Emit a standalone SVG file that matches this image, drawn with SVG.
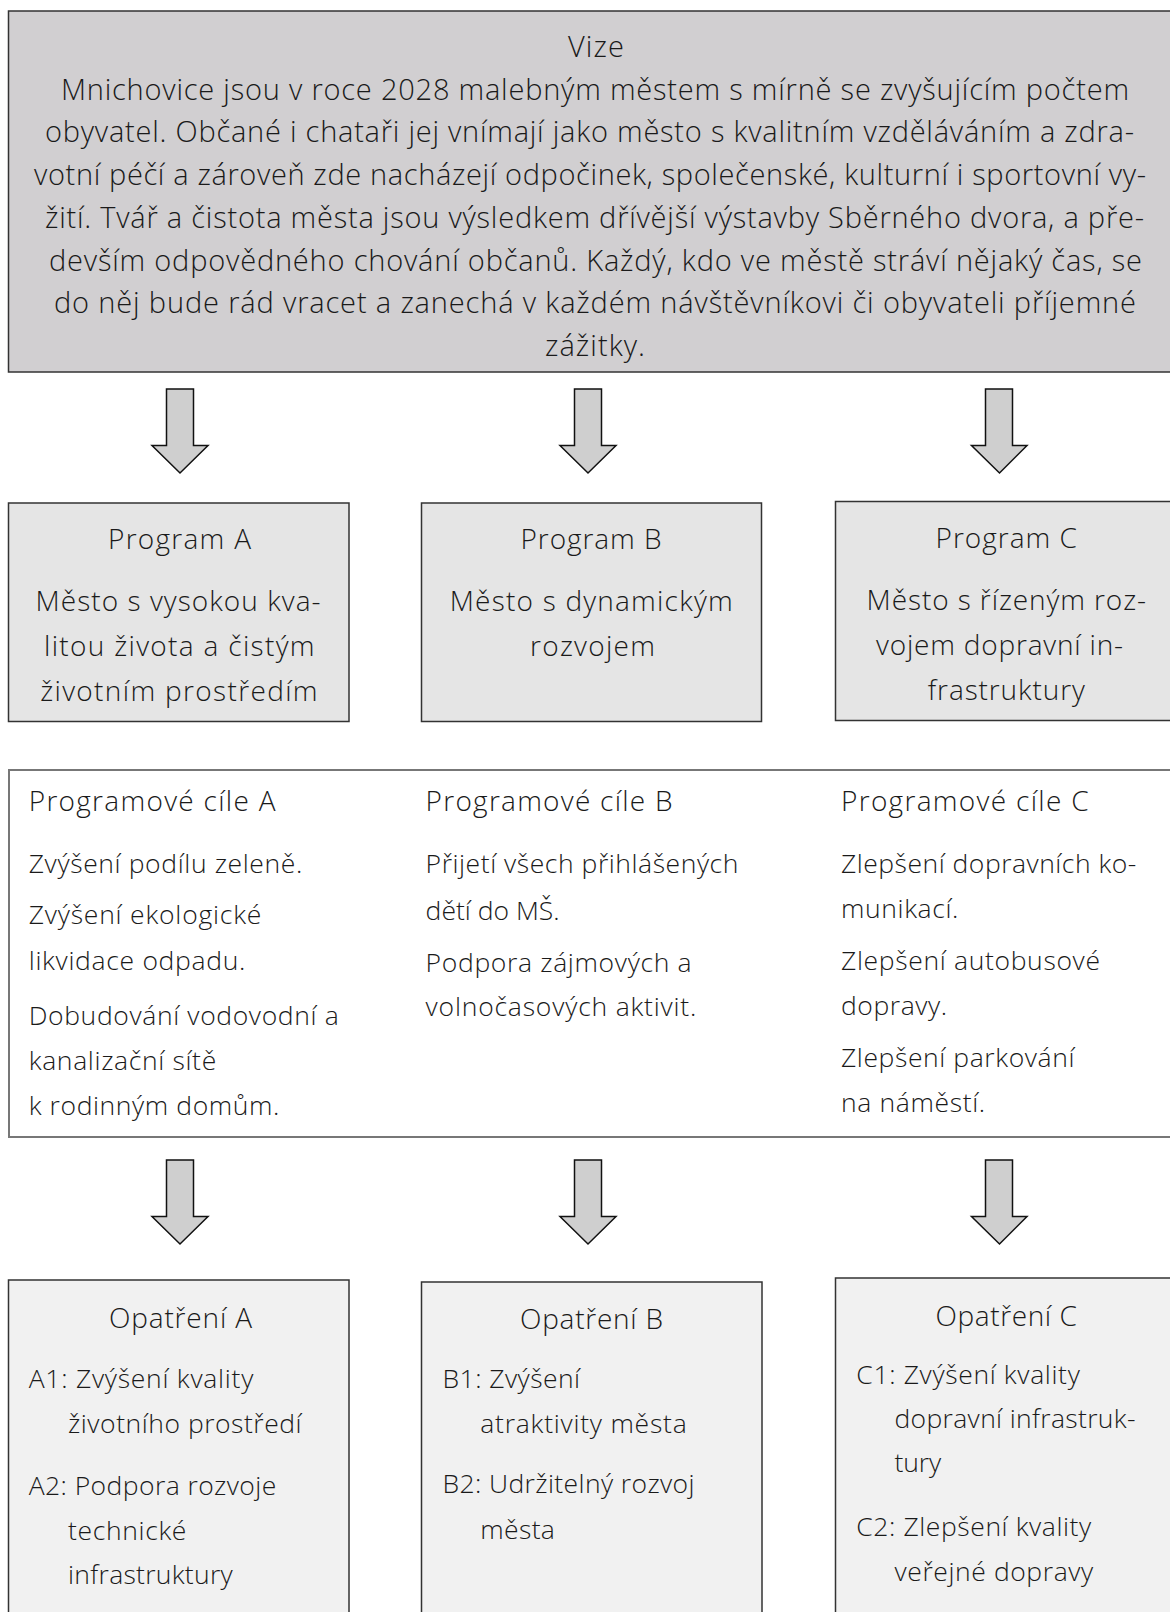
<svg xmlns="http://www.w3.org/2000/svg" width="1170" height="1612" viewBox="0 0 1170 1612">
<style>
text{font-family:"Open Sans","Noto Sans","Liberation Sans",sans-serif;font-weight:300;font-size:26.5px;fill:#1a1a1a}
.v{font-size:29px}
.t{font-size:28px}
.vize{fill:#d1cfd1;stroke:#333;stroke-width:1.5}
.prog{fill:#e5e5e5;stroke:#333;stroke-width:1.5}
.goals{fill:#fff;stroke:#777;stroke-width:2}
.opat{fill:#f1f1f1;stroke:#333;stroke-width:1.5}
.arrow{fill:#cfcfcf;stroke:#111;stroke-width:1.5;stroke-linejoin:miter}
</style>
<rect width="1170" height="1612" fill="#fff"/>

<g id="vize">
<rect class="vize" x="8.5" y="11" width="1180" height="361"/>
<text class="v" x="568" y="57" textLength="56" lengthAdjust="spacing">Vize</text>
<text class="v" x="61" y="99.7" textLength="1068" lengthAdjust="spacing">Mnichovice jsou v roce 2028 malebným městem s mírně se zvyšujícím počtem</text>
<text class="v" x="45" y="142.4" textLength="1089" lengthAdjust="spacing">obyvatel. Občané i chataři jej vnímají jako město s kvalitním vzděláváním a zdra-</text>
<text class="v" x="34" y="185.1" textLength="1112" lengthAdjust="spacing">votní péčí a zároveň zde nacházejí odpočinek, společenské, kulturní i sportovní vy-</text>
<text class="v" x="45" y="227.8" textLength="1099" lengthAdjust="spacing">žití. Tvář a čistota města jsou výsledkem dřívější výstavby Sběrného dvora, a pře-</text>
<text class="v" x="49" y="270.5" textLength="1093" lengthAdjust="spacing">devším odpovědného chování občanů. Každý, kdo ve městě stráví nějaký čas, se</text>
<text class="v" x="54" y="313.2" textLength="1082" lengthAdjust="spacing">do něj bude rád vracet a zanechá v každém návštěvníkovi či obyvateli příjemné</text>
<text class="v" x="545" y="355.9" textLength="100" lengthAdjust="spacing">zážitky.</text>
</g>

<g id="connectors">
<path class="arrow" d="M166.5,389 H193.5 V445.5 H208 L180,473 L152,445.5 H166.5 Z"/>
<path class="arrow" d="M574.5,389 H601.5 V445.5 H616 L588,473 L560,445.5 H574.5 Z"/>
<path class="arrow" d="M985.5,389 H1012.5 V445.5 H1027 L999.5,473 L971.5,445.5 H985.5 Z"/>
<path class="arrow" d="M166.5,1160 H193.5 V1216.5 H208 L180,1244 L152,1216.5 H166.5 Z"/>
<path class="arrow" d="M574.5,1160 H601.5 V1216.5 H616 L588,1244 L560,1216.5 H574.5 Z"/>
<path class="arrow" d="M985.5,1160 H1012.5 V1216.5 H1027 L999.5,1244 L971.5,1216.5 H985.5 Z"/>
</g>

<g id="program-a">
<rect class="prog" x="8.5" y="503" width="340.5" height="218.5"/>
<text class="t" x="108" y="549" textLength="143" lengthAdjust="spacing">Program A</text>
<text class="t" x="35.6" y="610.5" textLength="285" lengthAdjust="spacing">Město s vysokou kva-</text>
<text class="t" x="44" y="655.5" textLength="270.6" lengthAdjust="spacing">litou života a čistým</text>
<text class="t" x="40.2" y="700.5" textLength="277.4" lengthAdjust="spacing">životním prostředím</text>
</g>

<g id="program-b">
<rect class="prog" x="421.5" y="503" width="340" height="218.5"/>
<text class="t" x="520.5" y="549" textLength="141" lengthAdjust="spacing">Program B</text>
<text class="t" x="449.7" y="610.5" textLength="283" lengthAdjust="spacing">Město s dynamickým</text>
<text class="t" x="530" y="655.5" textLength="125" lengthAdjust="spacing">rozvojem</text>
</g>

<g id="program-c">
<rect class="prog" x="835.5" y="501.5" width="345" height="219"/>
<text class="t" x="935.5" y="548" textLength="141.5" lengthAdjust="spacing">Program C</text>
<text class="t" x="866.6" y="610" textLength="279.4" lengthAdjust="spacing">Město s řízeným roz-</text>
<text class="t" x="876" y="655" textLength="247" lengthAdjust="spacing">vojem dopravní in-</text>
<text class="t" x="927.8" y="700" textLength="157" lengthAdjust="spacing">frastruktury</text>
</g>

<g id="programove-cile">
<rect class="goals" x="9" y="770" width="1180" height="367"/>
<text class="t" x="28.7" y="811" textLength="246.8" lengthAdjust="spacing">Programové cíle A</text>
<text x="28.7" y="872.5" textLength="273.6" lengthAdjust="spacing">Zvýšení podílu zeleně.</text>
<text x="28.7" y="924" textLength="232.7" lengthAdjust="spacing">Zvýšení ekologické</text>
<text x="28.7" y="970" textLength="216.7" lengthAdjust="spacing">likvidace odpadu.</text>
<text x="28.7" y="1024.5" textLength="310" lengthAdjust="spacing">Dobudování vodovodní a</text>
<text x="28.7" y="1070" textLength="187.5" lengthAdjust="spacing">kanalizační sítě</text>
<text x="28.7" y="1114.5" textLength="250.7" lengthAdjust="spacing">k rodinným domům.</text>

<text class="t" x="425.6" y="811" textLength="247" lengthAdjust="spacing">Programové cíle B</text>
<text x="425.6" y="872.5" textLength="312.8" lengthAdjust="spacing">Přijetí všech přihlášených</text>
<text x="425.6" y="919.5" textLength="134" lengthAdjust="spacing">dětí do MŠ.</text>
<text x="425.6" y="971.5" textLength="266" lengthAdjust="spacing">Podpora zájmových a</text>
<text x="425.6" y="1016" textLength="270.7" lengthAdjust="spacing">volnočasových aktivit.</text>

<text class="t" x="841" y="811" textLength="247.6" lengthAdjust="spacing">Programové cíle C</text>
<text x="841" y="872.5" textLength="295.4" lengthAdjust="spacing">Zlepšení dopravních ko-</text>
<text x="841" y="918" textLength="117.4" lengthAdjust="spacing">munikací.</text>
<text x="841" y="970" textLength="259" lengthAdjust="spacing">Zlepšení autobusové</text>
<text x="841" y="1015" textLength="106" lengthAdjust="spacing">dopravy.</text>
<text x="841" y="1066.5" textLength="233.4" lengthAdjust="spacing">Zlepšení parkování</text>
<text x="841" y="1111.5" textLength="144.2" lengthAdjust="spacing">na náměstí.</text>
</g>

<g id="opatreni-a">
<rect class="opat" x="8.5" y="1280" width="340.5" height="345"/>
<text class="t" x="109" y="1328" textLength="143" lengthAdjust="spacing">Opatření A</text>
<text x="28.7" y="1388" textLength="224.6" lengthAdjust="spacing">A1: Zvýšení kvality</text>
<text x="68.1" y="1433" textLength="233.5" lengthAdjust="spacing">životního prostředí</text>
<text x="28.7" y="1494.5" textLength="247.6" lengthAdjust="spacing">A2: Podpora rozvoje</text>
<text x="68.1" y="1539.5" textLength="118.3" lengthAdjust="spacing">technické</text>
<text x="68.1" y="1584" textLength="164.6" lengthAdjust="spacing">infrastruktury</text>
</g>

<g id="opatreni-b">
<rect class="opat" x="421.5" y="1282" width="340.5" height="345"/>
<text class="t" x="520" y="1329" textLength="143" lengthAdjust="spacing">Opatření B</text>
<text x="442.5" y="1388" textLength="137.5" lengthAdjust="spacing">B1: Zvýšení</text>
<text x="480.3" y="1433" textLength="206.4" lengthAdjust="spacing">atraktivity města</text>
<text x="442.5" y="1493" textLength="252" lengthAdjust="spacing">B2: Udržitelný rozvoj</text>
<text x="480.3" y="1538.5" textLength="74.6" lengthAdjust="spacing">města</text>
</g>

<g id="opatreni-c">
<rect class="opat" x="835.5" y="1278" width="345" height="345"/>
<text class="t" x="935.5" y="1326" textLength="141.5" lengthAdjust="spacing">Opatření C</text>
<text x="856.3" y="1384" textLength="223.5" lengthAdjust="spacing">C1: Zvýšení kvality</text>
<text x="894.5" y="1427.5" textLength="241" lengthAdjust="spacing">dopravní infrastruk-</text>
<text x="894.5" y="1472" textLength="46.7" lengthAdjust="spacing">tury</text>
<text x="856.3" y="1535.5" textLength="234.9" lengthAdjust="spacing">C2: Zlepšení kvality</text>
<text x="894.5" y="1580.5" textLength="198.7" lengthAdjust="spacing">veřejné dopravy</text>
</g>
</svg>
